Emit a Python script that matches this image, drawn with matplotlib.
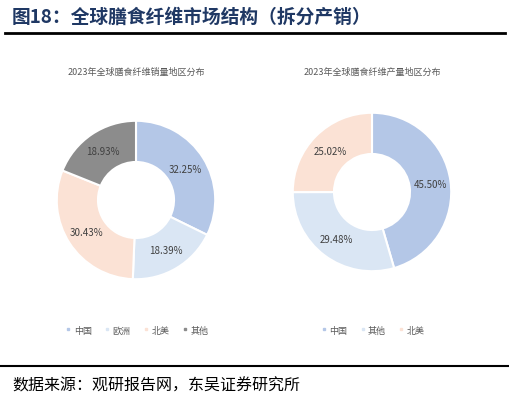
import matplotlib
matplotlib.use("Agg")
import matplotlib.pyplot as plt
from matplotlib.lines import Line2D
import numpy as np

plt.rcParams['font.family'] = ['Noto Sans CJK SC', 'DejaVu Sans']

sales_labels = ['中国', '欧洲', '北美', '其他']
sales_values = [32.25, 18.39, 30.43, 18.93]
prod_labels = ['中国', '其他', '北美']
prod_values = [45.50, 29.48, 25.02]

cmap = {'中国': '#b4c7e7', '欧洲': '#dae6f4', '北美': '#fbe2d5', '其他': '#8c8c8c'}
cmap_prod = {'中国': '#b4c7e7', '其他': '#dae6f4', '北美': '#fbe2d5'}

W, H = 510, 402
fig = plt.figure(figsize=(W/100, H/100), dpi=100)

def pie(cx, cy, r, labels, values, colors, title, ty, legy):
    ax = fig.add_axes([(cx-r)/W, 1-(cy+r)/H, 2*r/W, 2*r/H])
    ax.pie(values, colors=[colors[l] for l in labels], startangle=90,
           counterclock=False, radius=1.0,
           wedgeprops=dict(width=0.52, edgecolor='white', linewidth=1.5))
    ang = 90
    for v in values:
        a = np.deg2rad(ang - v*3.6/2)
        ax.text(0.74*np.cos(a), 0.74*np.sin(a), f'{v:.2f}%', ha='center', va='center',
                fontsize=7, color='#404040')
        ang -= v*3.6
    ax.set_xlim(-1.01, 1.01)
    ax.set_ylim(-1.01, 1.01)
    ax.set_aspect('equal')
    fig.text(cx/W, 1-ty/H, title, ha='center', va='center', fontsize=6.5, color='#595959')
    handles = [Line2D([], [], marker='s', linestyle='', markersize=1.8, color=colors[l]) for l in labels]
    fig.legend(handles, labels, loc='center', bbox_to_anchor=(cx/W, 1-legy/H), ncol=len(labels),
               frameon=False, fontsize=6.5, labelcolor='#595959', handletextpad=0.1,
               columnspacing=1.2, handlelength=1)

pie(136, 201, 80, sales_labels, sales_values, cmap, '2023年全球膳食纤维销量地区分布', 72, 331)
pie(372, 193, 80, prod_labels, prod_values, cmap_prod, '2023年全球膳食纤维产量地区分布', 72, 331)

title = '图18：全球膳食纤维市场结构（拆分产销）'
fig.text(12/W, 1-17/H, title, fontsize=13.5, fontweight='bold',
         color='#1f3864', va='center', ha='left')
fig.add_artist(Line2D([5/W, 505/W], [1-34/H, 1-34/H], color='black', lw=2))
fig.add_artist(Line2D([0, 1], [1-367/H, 1-367/H], color='black', lw=1.5))
fig.text(12/W, 1-386/H, '数据来源：观研报告网，东吴证券研究所', fontsize=11.5, color='black',
         va='center', ha='left')

fig.savefig('out.png', dpi=100, facecolor='white')
